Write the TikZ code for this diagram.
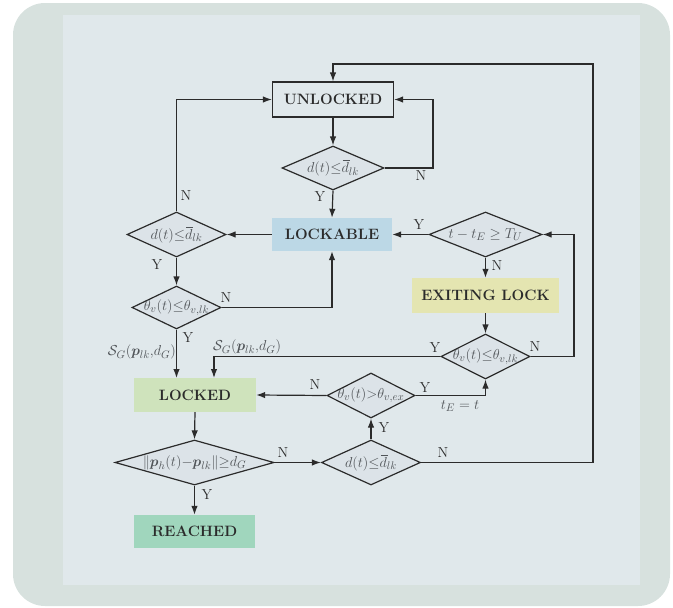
\documentclass[tikz,border=0pt]{standalone}
\usepackage{amsmath,amssymb}
\usetikzlibrary{shapes.geometric,arrows.meta}
\definecolor{outerbg}{HTML}{D7E1DE}
\definecolor{innerbg}{HTML}{E0E8EB}
\definecolor{diafill}{HTML}{DCE3E8}
\definecolor{lockablec}{HTML}{BCD8E6}
\definecolor{exitc}{HTML}{E4E5B1}
\definecolor{lockedc}{HTML}{CFE3BC}
\definecolor{reachedc}{HTML}{A0D6BD}
\definecolor{inkc}{HTML}{2B2B2B}
\definecolor{mathc}{HTML}{505458}
\tikzset{
  statebox/.style={rectangle, inner sep=0pt, text=inkc,
    font=\fontsize{15}{17}\selectfont\bfseries},
  decision/.style={diamond, draw=inkc, line width=1.2pt, fill=diafill,
    inner sep=0pt, text=mathc, font=\fontsize{15}{17}\selectfont},
  flow/.style={draw=inkc, line width=1.2pt,
    -{Latex[length=9pt,width=6.5pt]}},
  yn/.style={text=inkc, inner sep=0pt, font=\fontsize{14.5}{16}\selectfont},
  cond/.style={text=mathc, inner sep=0pt, font=\fontsize{15}{17}\selectfont},
}
% thin rule over d, kept narrow like a macron
\newcommand{\dbar}{\mkern1.5mu\overline{\mkern-1.5mu d\mkern1mu}\mkern-1mu}
\newcommand{\dlk}{\makebox[0pt]{$d(t){\leq}\dbar_{lk}$}}
\newcommand{\thlk}{\makebox[0pt]{$\theta_v(t){\leq}\theta_{v,lk}$}}
\begin{document}
\begin{tikzpicture}[x=1pt,y=-1pt]
  % frame and panel
  \useasboundingbox (0,0) rectangle (673,608);
  \fill[outerbg, rounded corners=32pt] (13,3) rectangle (670,606);
  \fill[innerbg] (63,15) rectangle (640,585);

  % states
  \node[statebox, draw=inkc, line width=1.2pt, minimum width=121pt, minimum height=35pt]
    (unlocked) at (333,99.5) {UNLOCKED};
  \node[statebox, fill=lockablec, minimum width=120pt, minimum height=33pt]
    (lockable) at (332,234.5) {LOCKABLE};
  \node[statebox, fill=exitc, minimum width=147pt, minimum height=35pt]
    (exiting) at (485.5,295.5) {EXITING LOCK};
  \node[statebox, fill=lockedc, minimum width=122pt, minimum height=34pt]
    (locked) at (195,395) {LOCKED};
  \node[statebox, fill=reachedc, minimum width=121pt, minimum height=33pt]
    (reached) at (194.5,531.5) {REACHED};

  % decisions
  \node[decision, minimum width=102pt, minimum height=44pt] (dA) at (333,168) {\dlk};
  \node[decision, minimum width=99pt, minimum height=45pt] (dB) at (176.5,234.5) {\dlk};
  \node[decision, minimum width=89pt, minimum height=43pt] (thA) at (176.5,307.5) {\thlk};
  \node[decision, minimum width=113pt, minimum height=45pt] (tU) at (485.5,234.5)
    {\makebox[0pt]{$t-t_E\geq T_U$}};
  \node[decision, minimum width=89pt, minimum height=45pt] (thB) at (485.5,356.5) {\thlk};
  \node[decision, minimum width=88pt, minimum height=45pt] (thE) at (371,395.5)
    {\makebox[0pt]{$\theta_v(t){>}\theta_{v,ex}$}};
  \node[decision, minimum width=159pt, minimum height=45pt] (norm) at (194.5,462.5)
    {\makebox[0pt]{$\|\boldsymbol{p}_h(t){-}\boldsymbol{p}_{lk}\|{\geq}d_G$}};
  \node[decision, minimum width=99pt, minimum height=45pt] (dC) at (371,462.5) {\dlk};

  % bend points
  \coordinate (rA) at (433,168);
  \coordinate (rAu) at (433,99.5);
  \coordinate (lB) at (176.5,99.5);
  \coordinate (rTh) at (332,307.5);
  \coordinate (rB) at (574,356.5);
  \coordinate (rBu) at (574,234.5);
  \coordinate (lTh) at (214,356.5);
  \coordinate (lThd) at (214,378);
  \coordinate (rE) at (485.5,395.5);
  \coordinate (rC) at (593,462.5);
  \coordinate (rCu) at (593,64);
  \coordinate (tC) at (333,64);
  \coordinate (thAd) at (176.5,378);

  % connectors
  \draw[flow] (unlocked) -- (dA);
  \draw[flow] (dA.east) -- (rA) -- (rAu) -- (unlocked.east);
  \draw[flow] (dA.south) -- (lockable.north);
  \draw[flow] (lockable.west) -- (dB.east);
  \draw[flow] (dB.north) -- (lB) -- (unlocked.west);
  \draw[flow] (dB.south) -- (thA.north);
  \draw[flow] (thA.east) -- (rTh) -- (lockable.south);
  \draw[flow] (thA.south) -- (thAd);
  \draw[flow] (tU.west) -- (lockable.east);
  \draw[flow] (tU.south) -- (exiting.north);
  \draw[flow] (exiting.south) -- (thB.north);
  \draw[flow] (thB.east) -- (rB) -- (rBu) -- (tU.east);
  \draw[flow] (thB.west) -- (lTh) -- (lThd);
  \draw[flow] (thE.west) -- (locked.east);
  \draw[flow] (thE.east) -- (rE) -- (thB.south);
  \draw[flow] (locked.south) -- (norm.north);
  \draw[flow] (norm.east) -- (dC.west);
  \draw[flow] (norm.south) -- (reached.north);
  \draw[flow] (dC.north) -- (thE.south);
  \draw[flow] (dC.east) -- (rC) -- (rCu) -- (tC) -- (unlocked.north);

  % branch labels
  \node[yn] (nA) at (421,176) {N};
  \node[yn] (yA) at (320,197) {Y};
  \node[yn] (nB) at (186,196) {N};
  \node[yn] (yB) at (157,265) {Y};
  \node[yn] (nTh) at (226,298) {N};
  \node[yn] (yTh) at (188,338) {Y};
  \node[yn] (yU) at (419,225) {Y};
  \node[yn] (nU) at (497,266) {N};
  \node[yn] (nThB) at (535,347) {N};
  \node[yn] (yThB) at (435,348) {Y};
  \node[yn] (nE) at (315,385) {N};
  \node[yn] (yE) at (425,388) {Y};
  \node[yn] (nN) at (283,453) {N};
  \node[yn] (yN) at (207,495) {Y};
  \node[yn] (yC) at (384,428) {Y};
  \node[yn] (nC) at (443,453) {N};

  \node[cond, anchor=east] (sgA) at (176,352) {$\mathcal{S}_G(\boldsymbol{p}_{lk}{,}d_G)$};
  \node[cond, anchor=west] (sgB) at (213,347) {$\mathcal{S}_G(\boldsymbol{p}_{lk}{,}d_G)$};
  \node[cond] (te) at (460,406) {$t_E=t$};
\end{tikzpicture}
\end{document}
